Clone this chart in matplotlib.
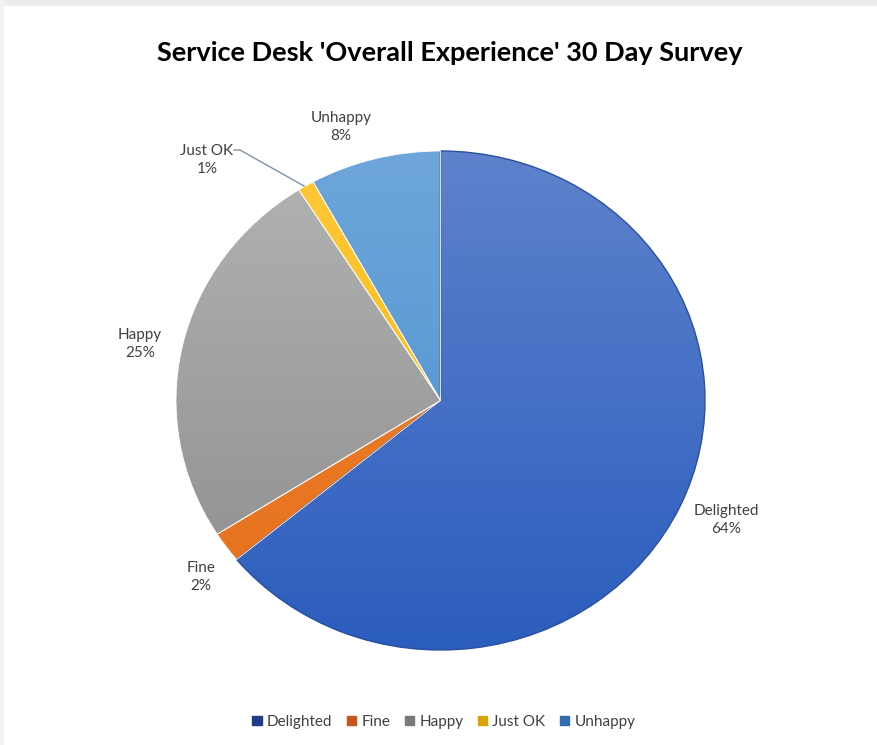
import numpy as np
import matplotlib.pyplot as plt
from matplotlib.colors import LinearSegmentedColormap

labels = ["Delighted", "Fine", "Happy", "Just OK", "Unhappy"]
values = [64, 2, 25, 1, 8]
# gradient colours (top, bottom) like the Excel fill
top_cols = ["#5E82CC", "#F3862F", "#B3B3B3", "#FFC83A", "#6EA6DB"]
bot_cols = ["#2B5DBE", "#E46F1C", "#8C8C8C", "#F5B800", "#4A8DCE"]
legend_cols = ["#1F3D8C", "#C5561A", "#7A7A7A", "#D9A400", "#2E6DAF"]

plt.rcParams['font.family'] = ['Lato', 'DejaVu Sans']

W, H = 877, 745
fig = plt.figure(figsize=(W / 100, H / 100), dpi=100)
fig.patch.set_facecolor("white")

# pie axes: the screenshot is stretched, so the pie is a slight ellipse
cx, cy, rx, ry = 440.5, 400.5, 264.5, 249.5
ax = fig.add_axes([(cx - rx) / W, (H - cy - ry) / H, 2 * rx / W, 2 * ry / H])
ax.axis("off")

wedges, _ = ax.pie(values, startangle=90, counterclock=False, radius=1,
                   colors=top_cols,
                   wedgeprops=dict(edgecolor="white", linewidth=0.6))

# vertical gradient inside each wedge
grad = np.linspace(0, 1, 256).reshape(-1, 1)
for w, c1, c2 in zip(wedges, top_cols, bot_cols):
    cmap = LinearSegmentedColormap.from_list("g", [c2, c1])
    im = ax.imshow(grad, cmap=cmap, extent=[-1, 1, -1, 1], origin="lower",
                   aspect="auto", zorder=w.get_zorder() + 0.1)
    im.set_clip_path(w)
    w.set_facecolor("none")
    w.set_zorder(w.get_zorder() + 0.2)
ax.set_aspect("auto")
ax.set_xlim(-1, 1)
ax.set_ylim(-1, 1)

# dark rim on the delighted slice
wedges[0].set_edgecolor("#2A4F9E")
wedges[0].set_linewidth(1.0)


def px2data(x, y):
    return (x - cx) / rx, (cy - y) / ry


label_px = {
    "Delighted": (726, 520),
    "Fine": (201, 577),
    "Happy": (140, 344),
    "Just OK": (207, 160),
    "Unhappy": (341, 127),
}
for lab, v in zip(labels, values):
    x, y = px2data(*label_px[lab])
    ax.text(x, y, f"{lab}\n{v}%", ha="center", va="center", fontsize=11,
            color="#404040", linespacing=1.3, clip_on=False)

# leader line for Just OK
p0 = px2data(234, 150)
p1 = px2data(240, 150)
p2 = px2data(304, 186)
ax.plot([p0[0], p1[0], p2[0]], [p0[1], p1[1], p2[1]], color="#7F8FA6",
        lw=1.0, clip_on=False, zorder=10)

fig.text(450 / W, 1 - 53 / H, "Service Desk 'Overall Experience' 30 Day Survey",
         ha="center", va="center", fontsize=19.5, fontweight="bold", color="black")

handles = [plt.Rectangle((0, 0), 1, 1, color=c) for c in legend_cols]
fig.legend(handles, labels, loc="center", bbox_to_anchor=(444 / W, 1 - 722 / H),
           ncol=5, frameon=False, fontsize=11, handlelength=0.6, handleheight=0.6,
           handletextpad=0.35, columnspacing=0.95, labelcolor="#404040")

# light grey screenshot border on top and left
fig.add_artist(plt.Rectangle((0, 1 - 6 / H), 1, 6 / H, transform=fig.transFigure,
                             color="#EDEDED", lw=0))
fig.add_artist(plt.Rectangle((0, 0), 4 / W, 1, transform=fig.transFigure,
                             color="#F2F2F2", lw=0))

fig.savefig("out.png", dpi=100)
